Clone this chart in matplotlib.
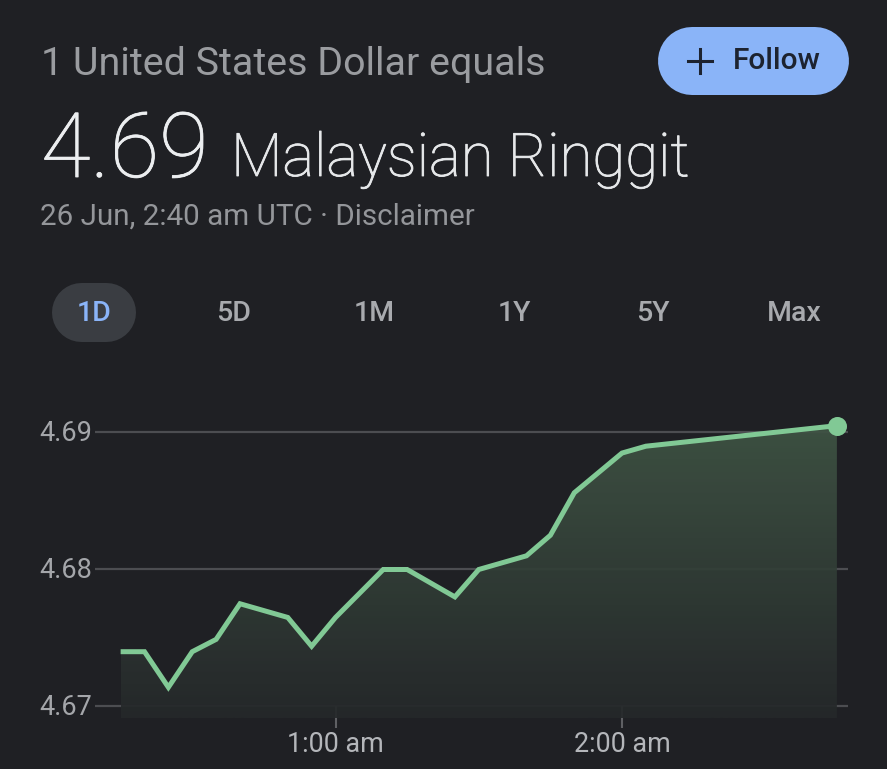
import numpy as np
import matplotlib
matplotlib.use("Agg")
import matplotlib.pyplot as plt
from matplotlib.patches import Polygon
from matplotlib.colors import LinearSegmentedColormap
from matplotlib.transforms import ScaledTranslation
import matplotlib.patheffects as pe

plt.rcParams['font.family'] = ['Roboto', 'DejaVu Sans']

minutes = [15, 20, 25, 30, 35, 40, 50, 55, 60, 70, 75, 85, 90, 100, 105, 110, 120, 125, 165]
rates = [4.6740, 4.6740, 4.6714, 4.6740, 4.6749, 4.6775, 4.6765, 4.6744, 4.6765, 4.6800,
         4.6800, 4.6780, 4.6800, 4.6810, 4.6825, 4.6856, 4.6885, 4.6890, 4.6905]
y_ticks = [4.67, 4.68, 4.69]
y_labels = ['4.67', '4.68', '4.69']
x_ticks = [60, 120]
x_labels = ['1:00 am', '2:00 am']
ranges = ['1D', '5D', '1M', '1Y', '5Y', 'Max']

W, H = 887, 769
BG = '#1f2024'
GREEN = '#81c995'
fig = plt.figure(figsize=((W + 0.01) / 100, (H + 0.01) / 100), dpi=100, facecolor=BG)

# full-figure overlay in pixel coordinates for the page furniture
page = fig.add_axes([0, 0, 1, 1], zorder=0)
page.set_xlim(0, W); page.set_ylim(H, 0); page.axis('off')

# chart axes: 1:00 at px 335.5, 2:00 at px 622; 4.69 at px 432.5, 4.67 at px 706.5
px_per_min = (622 - 335.5) / 60
px_per_val = (706.5 - 432.5) / 0.02
L, R, T, B = 95, 848, 405, 720
ax = fig.add_axes([L / W, 1 - B / H, (R - L) / W, (B - T) / H], zorder=1)
ax.patch.set_alpha(0)
for s in ax.spines.values():
    s.set_visible(False)

ax.set_yticks(y_ticks, y_labels)
ax.set_xticks(x_ticks, x_labels)
ax.tick_params(axis='y', length=0, pad=2, labelsize=19.5, labelcolor='#a4a6aa')
ax.tick_params(axis='x', length=0, pad=8, labelsize=19.4, labelcolor='#b4b6ba')
ax.grid(axis='y', color='#4c4d51', lw=1.6, zorder=1)
ax.set_axisbelow(True)
for lab in ax.get_yticklabels():
    lab.set_transform(lab.get_transform() + ScaledTranslation(0, 1.5 / 72, fig.dpi_scale_trans))

# tick marks run from the 4.67 gridline down towards the labels
ax.vlines(x_ticks, 4.67 - 21.5 / px_per_val, 4.67, color='#5f6064', lw=1.5, zorder=1.2, clip_on=False)

# gradient area under the line
base = 4.67 - 11.5 / px_per_val
cmap = LinearSegmentedColormap.from_list('g', ['#25282a', '#3f5444'])
grad = np.linspace(1, 0, 256).reshape(-1, 1)
im = ax.imshow(grad, extent=[minutes[0], minutes[-1], base, rates[-1]], aspect='auto',
               cmap=cmap, zorder=1.5, origin='upper', alpha=0.93)
poly = Polygon(list(zip(minutes, rates)) + [(minutes[-1], base), (minutes[0], base)],
               closed=True, transform=ax.transData, fc='none', ec='none')
ax.add_patch(poly)
im.set_clip_path(poly)
ax.set_xlim(60 + (L - 335.5) / px_per_min, 60 + (R - 335.5) / px_per_min)
ax.set_ylim(4.67 - (B - 706.5) / px_per_val, 4.67 + (706.5 - T) / px_per_val)

ax.plot(minutes, rates, color=GREEN, lw=3.6, zorder=3, solid_joinstyle='miter', solid_capstyle='butt')
ax.plot(minutes[-1:], rates[-1:], 'o', ms=13.7, color=GREEN, mew=0, zorder=4, clip_on=False)

# header text
thick = lambda c: [pe.withStroke(linewidth=0.6, foreground=c)]
page.text(41, 64, '1 United States Dollar equals', fontsize=28.4, color='#9a9ca0', va='center', ha='left')
page.text(41, 152, '4.69', fontsize=65, color='#eceef0', va='center', ha='left', fontweight='light',
          path_effects=thick('#eceef0'))
page.text(231, 160, 'Malaysian Ringgit', fontsize=43.2, color='#e6e8ea', va='center', ha='left', fontweight='light',
          path_effects=thick('#e6e8ea'))
page.text(40, 217, '26 Jun, 2:40 am UTC · Disclaimer', fontsize=21.3, color='#94969a', va='center', ha='left')

# follow button
page.plot([658 + 34, 849 - 34], [61, 61], color='#8ab4f8', lw=68 * 0.72, solid_capstyle='round')
page.plot([700, 700], [49, 73], color='#1d2330', lw=2.2)
page.plot([688, 712], [61, 61], color='#1d2330', lw=2.2)
page.text(733, 61, 'Follow', fontsize=21.5, color='#1d2330', va='center', ha='left', fontweight='medium')

# range selector
page.plot([51.5 + 29.5, 135.5 - 29.5], [312.5, 312.5], color='#3a3d42', lw=59 * 0.72, solid_capstyle='round')
for name, x in zip(ranges, [94.5, 234, 374, 514, 653, 794]):
    page.text(x, 313, name, fontsize=20.5, color='#8ab4f8' if name == '1D' else '#a8aaae',
              va='center', ha='center', fontweight='medium')

fig.savefig('out.png', dpi=100, facecolor=BG)
